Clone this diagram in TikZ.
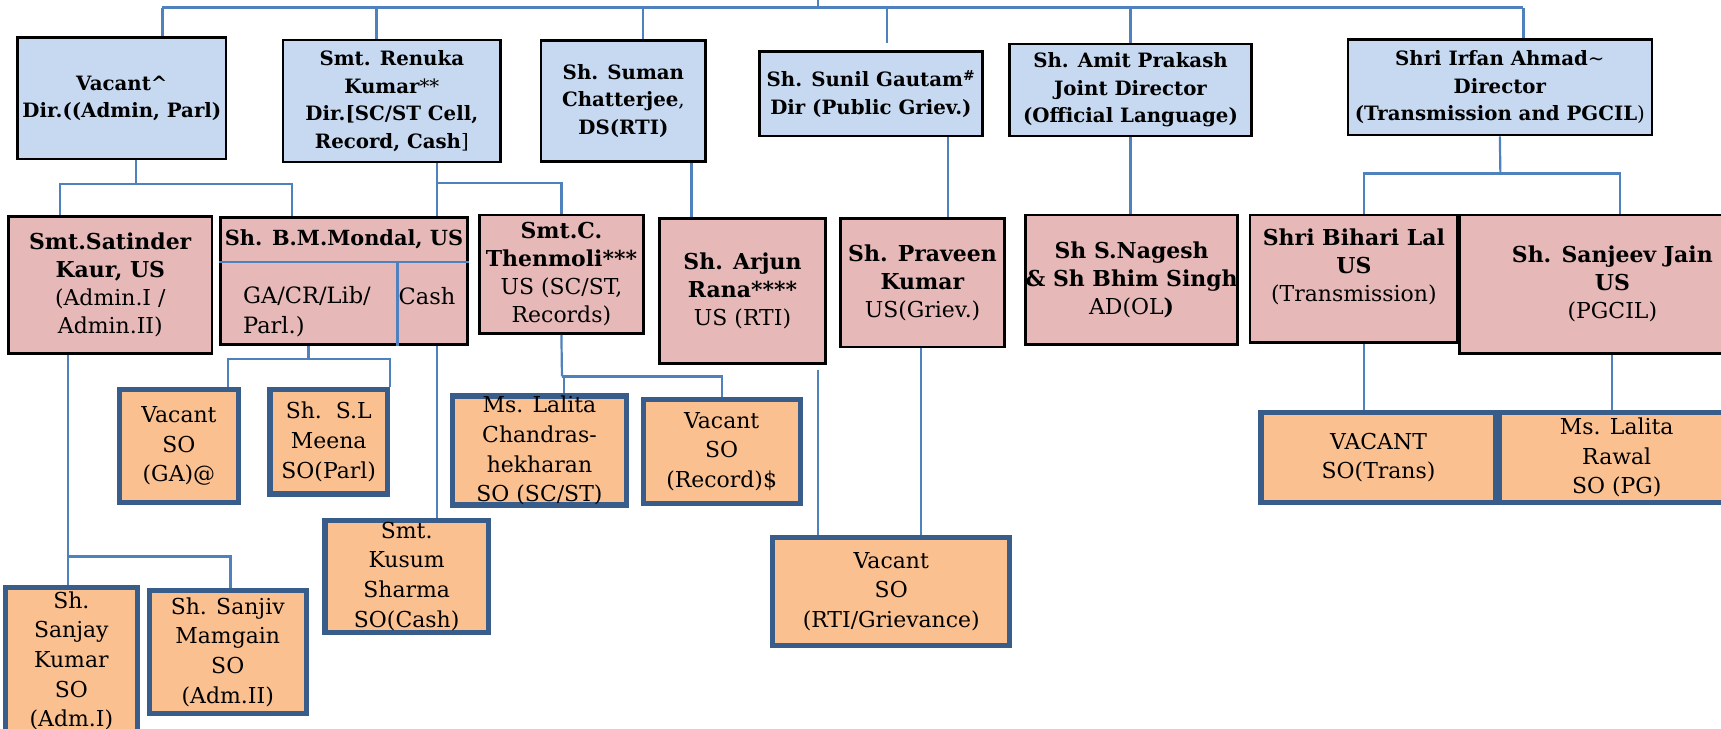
\documentclass[tikz,border=0pt]{standalone}
\usepackage{fontspec}
\setmainfont{DejaVu Serif}
\definecolor{dirblue}{HTML}{C6D9F1}
\definecolor{uspink}{HTML}{E6B9B8}
\definecolor{soorange}{HTML}{FAC090}
\definecolor{soedge}{HTML}{385D8A}
\definecolor{linkblue}{HTML}{4F81BD}
\begin{document}
\begin{tikzpicture}[x=1pt, y=-1pt,
        dirbox/.style={draw=black, line width=2.4pt, fill=dirblue, inner sep=0pt, align=center, font=\fontsize{18}{25}\selectfont\bfseries},
        usbox/.style={draw=black, line width=2.4pt, fill=uspink, inner sep=0pt, align=center, font=\fontsize{20}{25.5}\selectfont},
        sobox/.style={draw=soedge, line width=4.8pt, fill=soorange, inner sep=0pt, align=center, font=\fontsize{20}{27}\selectfont},
        link/.style={draw=linkblue, line width=2pt},
        bar/.style={draw=linkblue, line width=3pt}]
        \useasboundingbox (0,0) rectangle (1568,664);

        \node[dirbox, minimum width=190, minimum height=111] (vacdir) at (111,89.5) {Vacant\textasciicircum\\Dir.((Admin, Parl)};
        \node[dirbox, minimum width=198, minimum height=111] (renuka) at (357,92) {Smt. Renuka\\Kumar{\mdseries **}\\Dir.[SC/ST Cell,\\Record, Cash{\mdseries ]}};
        \node[dirbox, minimum width=150, minimum height=110] (suman) at (568,92) {Sh. Suman\\Chatterjee{\mdseries ,}\\DS(RTI)};
        \node[dirbox, minimum width=203, minimum height=77] (sunil) at (793.5,85.5) {Sh. Sunil Gautam\textsuperscript{\#}\\Dir (Public Griev.)};
        \node[dirbox, minimum width=220, minimum height=84] (amit) at (1030,82) {Sh. Amit Prakash\\Joint Director\\(Official Language)};
        \node[dirbox, minimum width=277, minimum height=87] (irfan) at (1366.5,79.5) {Shri Irfan Ahmad{\mdseries\textasciitilde}\\Director\\(Transmission and PGCIL{\mdseries )}};

        \node[usbox, minimum width=185, minimum height=125] (satinder) at (100.5,259.5) {\textbf{Smt.Satinder}\\\textbf{Kaur, US}\\(Admin.I /\\Admin.II)};
        \node[usbox, minimum width=225, minimum height=116] (mondal) at (313.5,256) {};
        \node[usbox, minimum width=149, minimum height=108] (thenmoli) at (511.5,250) {\textbf{Smt.C.}\\\textbf{Thenmoli***}\\US (SC/ST,\\Records)};
        \node[usbox, minimum width=151, minimum height=132] (arjun) at (676.5,265) {\textbf{Sh. Arjun}\\\textbf{Rana****}\\US (RTI)};
        \node[usbox, minimum width=149, minimum height=117] (praveen) at (840.5,257.5) {\textbf{Sh. Praveen}\\\textbf{Kumar}\\US(Griev.)};
        \node[usbox, minimum width=192, minimum height=118] (nagesh) at (1031,255) {\textbf{Sh S.Nagesh}\\\textbf{\& Sh Bhim Singh}\\AD(OL\textbf{)}};
        \node[usbox, minimum width=189, minimum height=116] (bihari) at (1233.5,254) {};
        \node[usbox, minimum width=278, minimum height=126] (sanjeev) at (1469,259) {\textbf{Sh. Sanjeev Jain}\\\textbf{US}\\(PGCIL)};

        \draw[link] ([yshift=-42pt]mondal.north west) -- ([yshift=-42pt]mondal.north east);
        \draw[link] ([xshift=-65pt,yshift=-42pt]mondal.north east) -- ([xshift=-65pt]mondal.south east);
        \node[font=\fontsize{19}{24}\selectfont\bfseries] (mondalname) at (313.5,218) {Sh. B.M.Mondal, US};
        \node[font=\fontsize{20.5}{28}\selectfont, anchor=west, align=left] (mondalwork) at (218,284) {GA/CR/Lib/\\Parl.)};
        \node[font=\fontsize{20.5}{28}\selectfont] (mondalcash) at (389,270) {Cash};
        \node[font=\fontsize{20}{25.5}\selectfont, align=center] (biharitext) at (1233.5,243.5) {\textbf{Shri Bihari Lal}\\\textbf{US}\\(Transmission)};

        \node[sobox, minimum width=108, minimum height=103] (vacga) at (163,406.5) {Vacant\\SO\\(GA)@};
        \node[sobox, minimum width=107, minimum height=95] (meena) at (299.5,402.5) {Sh.\ \ S.L\\Meena\\SO(Parl)};
        \node[sobox, minimum width=149, minimum height=102] (kusum) at (370.5,525) {Smt.\\Kusum\\Sharma\\SO(Cash)};
        \node[sobox, minimum width=120, minimum height=133] (sanjay) at (65,602) {Sh.\\Sanjay\\Kumar\\SO\\(Adm.I)};
        \node[sobox, minimum width=143, minimum height=112] (mamgain) at (207.5,594) {Sh. Sanjiv\\Mamgain\\SO\\(Adm.II)};
        \node[sobox, minimum width=159, minimum height=97] (lalc) at (491.5,410.5) {Ms. Lalita\\Chandras-\\hekharan\\SO (SC/ST)};
        \node[sobox, minimum width=143, minimum height=95] (vacrec) at (657.5,411.5) {Vacant\\SO\\(Record)\$};
        \node[sobox, minimum width=216, minimum height=98] (vacrti) at (812,539) {Vacant\\SO\\(RTI/Grievance)};
        \node[sobox, minimum width=214, minimum height=82] (vactrans) at (1256,417) {VACANT\\SO(Trans)};
        \node[sobox, minimum width=214, minimum height=82] (rawal) at (1473,417) {Ms. Lalita\\Rawal\\SO (PG)};

        \coordinate (root) at (745,0);
        \coordinate (busL) at (148,7);
        \coordinate (busR) at (1388,7);
        \draw[bar] (busL) -- (busR);
        \draw[link] (root) -- (root |- busL);
        \draw[link] ([xshift=37pt]vacdir.north) -- (busL);
        \draw[link] ([xshift=-14pt]renuka.north) |- (busL);
        \draw[link] ([xshift=18pt]suman.north) |- (busL);
        \draw[link] ([xshift=14.5pt,yshift=7pt]sunil.north) |- (busL);
        \draw[link] (amit.north) |- (busL);
        \draw[link] ([xshift=21.5pt]irfan.north) -- (busR);

        \coordinate (vacjoin) at (124,168);
        \draw[link] ([xshift=13pt]vacdir.south) -- (vacjoin);
        \draw[link] ([xshift=-45.5pt]satinder.north) |- (vacjoin);
        \draw[link] ([xshift=-47.5pt]mondal.north) |- (vacjoin);

        \coordinate (renjoin) at (398,167);
        \draw[link] ([xshift=41pt]renuka.south) -- ([xshift=84.5pt]mondal.north);
        \draw[link] (thenmoli.north) |- (renjoin);

        \draw[link] ([xshift=62pt]suman.south) -- ([xshift=-46.5pt]arjun.north);
        \draw[link] ([xshift=70.5pt]sunil.south) -- ([xshift=23.5pt]praveen.north);
        \draw[link] (amit.south) -- (amit.south |- nagesh.north);

        \coordinate (irfjoin) at (1367,158);
        \draw[link] (irfan.south) -- (irfjoin);
        \draw[link] ([xshift=9.5pt]bihari.north) |- (irfjoin);
        \draw[link] ([xshift=7pt]sanjeev.north) |- (irfjoin);

        \coordinate (monjoin) at (281,327);
        \draw[link] ([xshift=-32.5pt]mondal.south) -- (monjoin);
        \draw[link] ([xshift=45pt]vacga.north) |- (monjoin);
        \draw[link] ([xshift=55.5pt]meena.north) |- (monjoin);
        \draw[link] ([xshift=84.5pt]mondal.south) -- ([xshift=27.5pt]kusum.north);

        \coordinate (satjoin) at (62,507);
        \draw[link] ([xshift=-38.5pt]satinder.south) -- ([xshift=-3pt]sanjay.north);
        \draw[link] ([xshift=2.5pt]mamgain.north) |- (satjoin);

        \coordinate (thejoin) at (512,343);
        \draw[link] (thenmoli.south) -- (thejoin);
        \draw[link] ([xshift=22.5pt]lalc.north) |- (thejoin);
        \draw[link] (vacrec.north) |- (thejoin);

        \draw[link] ([xshift=68.5pt,yshift=-5pt]arjun.south) -- ([xshift=-67pt]vacrti.north);
        \draw[link] ([xshift=-1.5pt]praveen.south) -- ([xshift=27pt]vacrti.north);
        \draw[link] ([xshift=9.5pt]bihari.south) -- ([xshift=-13pt]vactrans.north);
        \draw[link] (sanjeev.south) -- ([xshift=-4pt]rawal.north);
\end{tikzpicture}
\end{document}
